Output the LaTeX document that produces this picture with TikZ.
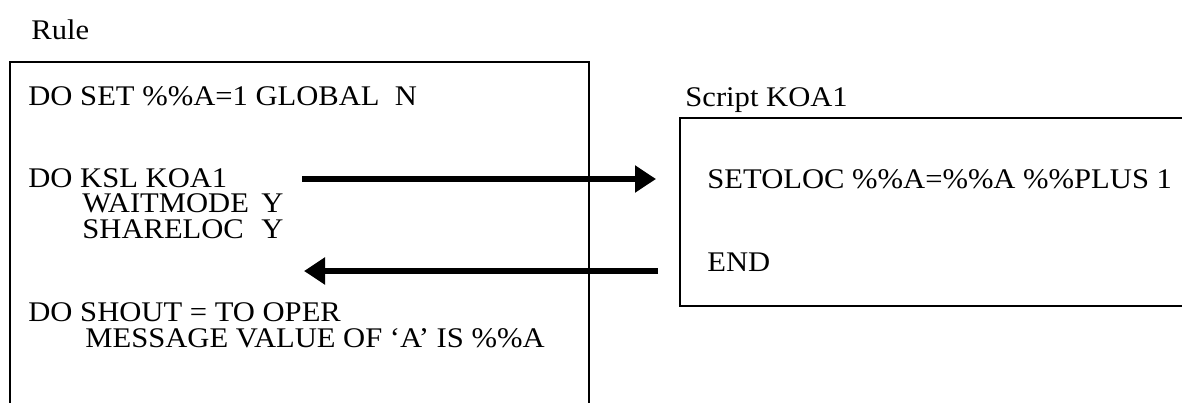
\documentclass[tikz,border=0pt]{standalone}
\usepackage{fontspec}
\usepackage{graphicx}
\setmainfont{Liberation Serif}
\usetikzlibrary{arrows.meta}
\newcommand{\sqz}[1]{\scalebox{1}[0.93]{#1}}
\begin{document}
\begin{tikzpicture}[x=0.5pt,y=-0.5pt,
  txt/.style={anchor=base west,inner sep=0pt,font=\fontsize{15.3pt}{16.5pt}\selectfont},
  frame/.style={line width=1pt,draw=black},
  flow/.style={line width=2.6pt,-{Triangle[length=10.5pt,width=13pt]}}]
\useasboundingbox (0,0) rectangle (1182,402);
% frames
\draw[frame] (10,410) -- (10,62) -- (589,62) -- (589,410);
\draw[frame] (1190,118) -- (680,118) -- (680,306) -- (1190,306);
% titles
\node[txt] (rule) at (31,39) {\sqz{Rule}};
\node[txt] (script) at (685,106) {\sqz{Script KOA1}};
% rule text
\node[txt] (doset) at (28,105) {\sqz{DO SET \%\%A=1 GLOBAL~~N}};
\node[txt] (doksl) at (28,187) {\sqz{DO KSL KOA1}};
\node[txt] (wait) at (82,212) {\sqz{\makebox[5.85em][l]{WAITMODE}Y}};
\node[txt] (share) at (82,238) {\sqz{\makebox[5.85em][l]{SHARELOC}Y}};
\node[txt] (shout) at (28,321) {\sqz{DO SHOUT = TO OPER}};
\node[txt] (msg) at (85,347) {\sqz{MESSAGE VALUE OF ‘A’ IS \%\%A}};
% script text
\node[txt] (setoloc) at (707,188) {\sqz{SETOLOC \%\%A=\%\%A \%\%PLUS 1}};
\node[txt] (endn) at (707,271) {\sqz{END}};
% connectors
\coordinate (a1s) at (302,179);
\coordinate (a1e) at (656,179);
\coordinate (a2s) at (658,271);
\coordinate (a2e) at (304,271);
\draw[flow] (a1s) -- (a1e);
\draw[flow] (a2s) -- (a2e);
\end{tikzpicture}
\end{document}
